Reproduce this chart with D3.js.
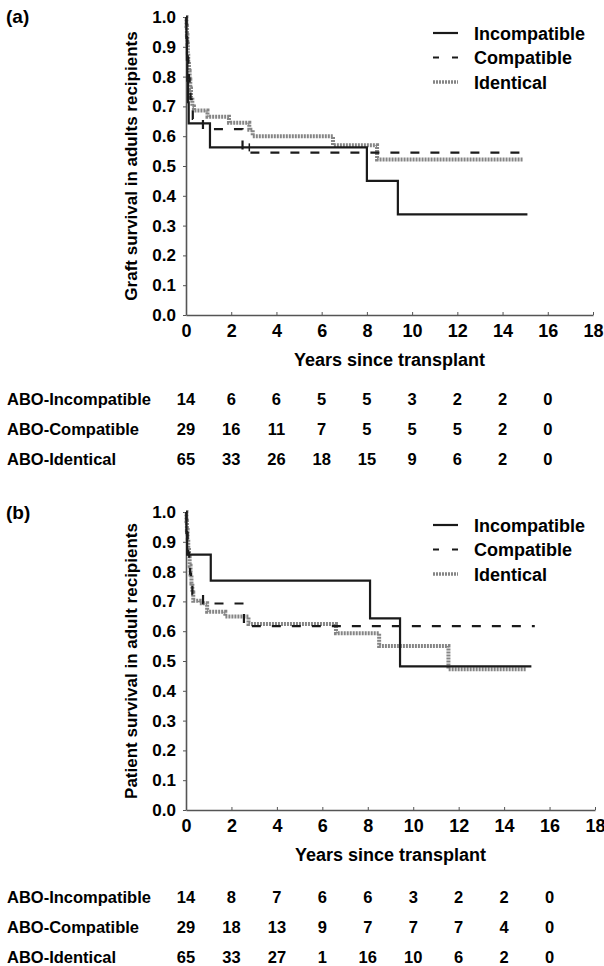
<!DOCTYPE html>
<html>
<head>
<meta charset="utf-8">
<script src="https://cdn.jsdelivr.net/npm/d3@7"></script>
<style>
  body { margin: 0; background: #fff; }
  svg text { font-family: "Liberation Sans", Arial, Helvetica, sans-serif; font-weight: bold; fill: #000; }
</style>
</head>
<body>
<svg id="chart" width="604" height="966"></svg>
<script>
// Kaplan-Meier step points [years, survival]
const graftIncompatible = [[0, 1], [0.02, 0.929], [0.04, 0.857], [0.06, 0.786], [0.09, 0.714], [0.12, 0.643], [1.06, 0.5625], [8.0, 0.45], [9.37, 0.3375], [15.1, 0.3375]];
const graftCompatible = [[0, 1], [0.02, 0.966], [0.04, 0.931], [0.06, 0.897], [0.08, 0.862], [0.1, 0.828], [0.13, 0.793], [0.16, 0.759], [0.2, 0.724], [0.25, 0.69], [0.3, 0.658], [0.75, 0.624], [2.5, 0.545], [15.1, 0.545]];
const graftIdentical = [[0, 1], [0.02, 0.97], [0.04, 0.94], [0.06, 0.91], [0.08, 0.88], [0.1, 0.85], [0.13, 0.82], [0.16, 0.79], [0.19, 0.76], [0.22, 0.73], [0.28, 0.70], [0.35, 0.686], [0.95, 0.665], [1.9, 0.645], [2.8, 0.622], [2.95, 0.60], [6.5, 0.57], [8.45, 0.522], [14.9, 0.522]];
const graftCensored = [[2.8, 0.5625]];

const patientIncompatible = [[0, 1], [0.02, 0.929], [0.05, 0.857], [1.09, 0.77], [8.1, 0.643], [9.42, 0.482], [15.2, 0.482]];
const patientCompatible = [[0, 1], [0.02, 0.966], [0.04, 0.931], [0.07, 0.897], [0.1, 0.862], [0.14, 0.828], [0.18, 0.793], [0.22, 0.759], [0.28, 0.724], [0.75, 0.693], [2.55, 0.617], [15.35, 0.617]];
const patientIdentical = [[0, 1], [0.02, 0.97], [0.04, 0.94], [0.07, 0.91], [0.1, 0.88], [0.13, 0.85], [0.16, 0.82], [0.2, 0.79], [0.24, 0.76], [0.28, 0.73], [0.32, 0.702], [0.6, 0.694], [0.93, 0.665], [1.73, 0.649], [2.75, 0.624], [6.6, 0.593], [8.5, 0.55], [11.55, 0.472], [14.95, 0.472]];
const patientCensored = [];

// numbers at risk
const riskYears = [0, 2, 4, 6, 8, 10, 12, 14, 16];
const groupLabels = ["ABO-Incompatible", "ABO-Compatible", "ABO-Identical"];
const graftRiskIncompatible = [14, 6, 6, 5, 5, 3, 2, 2, 0];
const graftRiskCompatible = [29, 16, 11, 7, 5, 5, 5, 2, 0];
const graftRiskIdentical = [65, 33, 26, 18, 15, 9, 6, 2, 0];
const patientRiskIncompatible = [14, 8, 7, 6, 6, 3, 2, 2, 0];
const patientRiskCompatible = [29, 18, 13, 9, 7, 7, 7, 4, 0];
const patientRiskIdentical = [65, 33, 27, 1, 16, 10, 6, 2, 0];

const legendLabels = ["Incompatible", "Compatible", "Identical"];
const xTicks = [0, 2, 4, 6, 8, 10, 12, 14, 16, 18];
const yTicks = [0, 0.1, 0.2, 0.3, 0.4, 0.5, 0.6, 0.7, 0.8, 0.9, 1.0];

const styles = [
  { stroke: "#1a1a1a", width: 2.2, dash: null, legendDash: null },
  { stroke: "#1a1a1a", width: 2.2, dash: "9,11", legendDash: "6,13" },
  { stroke: "#858585", width: 4, dash: "2,1", legendDash: "2,1" }
];

const svg = d3.select("#chart");

const panels = [
  {
    tag: "(a)", tagY: 23, title: "Graft survival in adults recipients",
    top: 17, bottom: 315, left: 186, right: 593,
    series: [graftIncompatible, graftCompatible, graftIdentical],
    censored: graftCensored,
    legendY: 33,
    risk: [graftRiskIncompatible, graftRiskCompatible, graftRiskIdentical],
    riskY: 405
  },
  {
    tag: "(b)", tagY: 519, title: "Patient survival in adult recipients",
    top: 512, bottom: 810, left: 186, right: 595,
    series: [patientIncompatible, patientCompatible, patientIdentical],
    censored: patientCensored,
    legendY: 525,
    risk: [patientRiskIncompatible, patientRiskCompatible, patientRiskIdentical],
    riskY: 903
  }
];

panels.forEach((p) => {
  const x = d3.scaleLinear().domain([0, 18]).range([p.left, p.right]);
  const y = d3.scaleLinear().domain([0, 1]).range([p.bottom, p.top]);
  const g = svg.append("g");

  g.append("text")
    .attr("x", 6).attr("y", p.tagY)
    .style("font-size", "19px")
    .text(p.tag);

  // y axis
  const yAxis = g.append("g")
    .attr("transform", `translate(${p.left},0)`)
    .call(d3.axisLeft(y).tickValues(yTicks).tickFormat(d3.format(".1f"))
      .tickSizeInner(3).tickSizeOuter(0).tickPadding(7));
  yAxis.select(".domain").attr("stroke", "#555").attr("stroke-width", 1.6);
  yAxis.selectAll(".tick line").attr("stroke", "#555");
  yAxis.selectAll("text").style("font-size", "17px").attr("fill", "#000");

  // x axis
  const xAxis = g.append("g")
    .attr("transform", `translate(0,${p.bottom})`)
    .call(d3.axisBottom(x).tickValues(xTicks).tickFormat(d3.format("d"))
      .tickSizeInner(-3).tickSizeOuter(0).tickPadding(9));
  xAxis.select(".domain").attr("stroke", "#555").attr("stroke-width", 1.6);
  xAxis.selectAll(".tick line").attr("stroke", "#555");
  xAxis.selectAll("text").style("font-size", "18px").attr("fill", "#000");

  g.append("text")
    .attr("x", (p.left + p.right) / 2).attr("y", p.bottom + 51)
    .attr("text-anchor", "middle")
    .style("font-size", "18px")
    .text("Years since transplant");

  g.append("text")
    .attr("transform", `translate(137,${(p.top + p.bottom) / 2}) rotate(-90)`)
    .attr("text-anchor", "middle")
    .style("font-size", "17px")
    .text(p.title);

  // curves
  const line = d3.line()
    .x((d) => x(d[0]))
    .y((d) => y(d[1]))
    .curve(d3.curveStepAfter);

  // draw identical first so the black lines sit on top
  [2, 1, 0].forEach((i) => {
    const s = styles[i];
    g.append("path")
      .datum(p.series[i])
      .attr("fill", "none")
      .attr("stroke", s.stroke)
      .attr("stroke-width", s.width)
      .attr("stroke-dasharray", s.dash)
      .attr("d", line);
  });

  g.selectAll(".censor")
    .data(p.censored)
    .enter()
    .append("line")
    .attr("x1", (d) => x(d[0])).attr("x2", (d) => x(d[0]))
    .attr("y1", (d) => y(d[1]) - 4).attr("y2", (d) => y(d[1]) + 4)
    .attr("stroke", "#1a1a1a").attr("stroke-width", 1.5);

  // legend
  legendLabels.forEach((label, i) => {
    const ly = p.legendY + i * 24.5;
    const s = styles[i];
    g.append("line")
      .attr("x1", 433).attr("x2", 458)
      .attr("y1", ly).attr("y2", ly)
      .attr("stroke", s.stroke)
      .attr("stroke-width", i === 2 ? 3.5 : 2.2)
      .attr("stroke-dasharray", s.legendDash);
    g.append("text")
      .attr("x", 474).attr("y", ly + 6.5)
      .style("font-size", "18px")
      .text(label);
  });

  // numbers at risk
  p.risk.forEach((row, r) => {
    const ry = p.riskY + r * 30;
    g.append("text")
      .attr("x", 7).attr("y", ry)
      .style("font-size", "16.5px")
      .text(groupLabels[r]);
    g.selectAll(null)
      .data(row)
      .enter()
      .append("text")
      .attr("x", (d, i) => x(riskYears[i]))
      .attr("y", ry)
      .attr("text-anchor", "middle")
      .style("font-size", "16.5px")
      .text((d) => d);
  });
});
</script>
</body>
</html>
